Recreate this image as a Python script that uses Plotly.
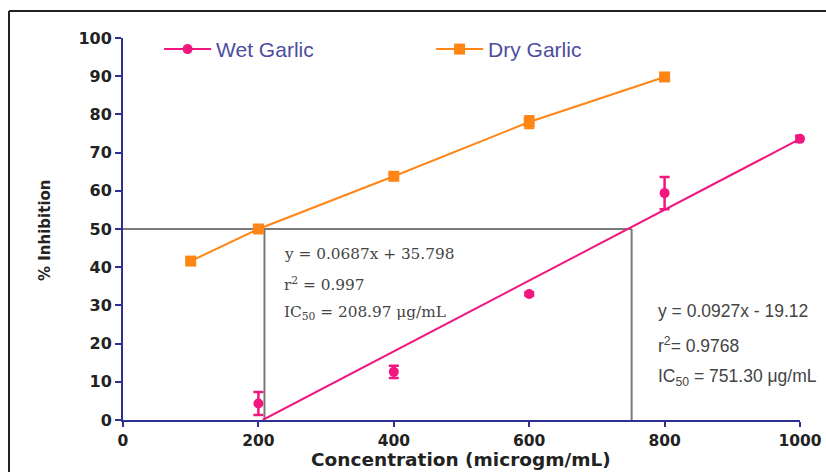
import plotly.graph_objects as go

# ---- data ----
dry_x = [100, 200, 400, 600, 800]
dry_y = [41.6, 50.0, 63.8, 78.0, 89.8]
dry_err = [0.4, 0.5, 0.5, 1.6, 0.5]

wet_x = [200, 400, 600, 800, 1000]
wet_y = [4.3, 12.6, 33.0, 59.4, 73.6]
wet_err = [3.0, 1.6, 0.4, 4.2, 0.8]

wet_slope, wet_intercept = 0.0927, -19.12
wet_fit_x = [-wet_intercept / wet_slope, 1000]
wet_fit_y = [wet_slope * v + wet_intercept for v in wet_fit_x]

ic50_dry = 208.97
ic50_wet = 751.30

x_title = "Concentration (microgm/mL)"
y_title = "% Inhibition"

PINK = "#f0187f"
ORANGE = "#ff8515"
NAVY = "#2e3192"
GRAY = "#7a7a7a"

fig = go.Figure()

fig.add_trace(go.Scatter(
    x=dry_x, y=dry_y, mode="lines+markers", name="Dry Garlic",
    line=dict(color=ORANGE, width=2),
    marker=dict(symbol="square", size=11, color=ORANGE),
    error_y=dict(type="data", array=dry_err, color=ORANGE, thickness=2, width=5),
    cliponaxis=False, legendrank=2,
))

fig.add_trace(go.Scatter(
    x=wet_fit_x, y=wet_fit_y, mode="lines", showlegend=False,
    line=dict(color=PINK, width=2), cliponaxis=False,
))
fig.add_trace(go.Scatter(
    x=wet_x, y=wet_y, mode="markers", showlegend=False,
    marker=dict(symbol="circle", size=10, color=PINK),
    error_y=dict(type="data", array=wet_err, color=PINK, thickness=2.5, width=5),
    cliponaxis=False,
))
# legend entry for wet garlic
fig.add_trace(go.Scatter(
    x=[None], y=[None], mode="lines+markers", name="Wet Garlic",
    line=dict(color=PINK, width=2),
    marker=dict(symbol="circle", size=10, color=PINK), legendrank=1,
))

# IC50 guide lines
fig.add_shape(type="line", x0=0, x1=ic50_wet, y0=50, y1=50, xref="x", yref="y",
              line=dict(color=GRAY, width=2), layer="below")
fig.add_shape(type="line", x0=ic50_dry, x1=ic50_dry, y0=0, y1=50, xref="x", yref="y",
              line=dict(color=GRAY, width=2), layer="below")
fig.add_shape(type="line", x0=ic50_wet, x1=ic50_wet, y0=0, y1=50, xref="x", yref="y",
              line=dict(color=GRAY, width=2), layer="below")

# outer frame (top and left edges visible)
fx = (9 - 123) / 677
fy = (420 - 11) / 382
fig.add_shape(type="line", xref="paper", yref="paper", x0=fx, x1=1.1, y0=fy, y1=fy,
              line=dict(color="#222", width=2))
fig.add_shape(type="line", xref="paper", yref="paper", x0=fx, x1=fx, y0=fy, y1=-0.2,
              line=dict(color="#222", width=2))

serif = "DejaVu Serif, Times New Roman, serif"
sans = "Liberation Sans, Arial, sans-serif"
wide = "DejaVu Sans, Verdana, sans-serif"
left_lines = ["y = 0.0687x + 35.798", "r<sup>2</sup> = 0.997", "IC<sub>50</sub> = 208.97 μg/mL"]
left_y = [43.5, 35.6, 28.0]
for t, yy in zip(left_lines, left_y):
    fig.add_annotation(x=235, y=yy, text=t, showarrow=False, xanchor="left", yanchor="middle",
                       font=dict(family=serif, size=15.3, color="#444"))
right_lines = ["y = 0.0927x - 19.12", "r<sup>2</sup>= 0.9768", "IC<sub>50</sub> = 751.30 μg/mL"]
right_y = [28.5, 19.6, 11.0]
for t, yy in zip(right_lines, right_y):
    fig.add_annotation(x=787, y=yy, text=t, showarrow=False, xanchor="left", yanchor="middle",
                       font=dict(family=sans, size=17.5, color="#444"))

# axis titles
fig.add_annotation(xref="paper", yref="paper", x=(461 - 123) / 677, y=(420 - 460) / 382,
                   text=x_title, showarrow=False, xanchor="center", yanchor="middle",
                   borderpad=0,
                   font=dict(family=wide, size=18.5, color="#222", weight="bold"))
fig.add_annotation(xref="paper", yref="paper", x=(45 - 123) / 677, y=(420 - 230) / 382,
                   text=y_title, showarrow=False, xanchor="center", yanchor="middle",
                   textangle=-90,
                   font=dict(family=wide, size=15, color="#222", weight="bold"))

fig.update_layout(
    width=826, height=472,
    margin=dict(l=123, r=26, t=38, b=52, autoexpand=False),
    paper_bgcolor="white", plot_bgcolor="white",
    showlegend=True,
    legend=dict(orientation="h", x=0.0533, y=0.97, xanchor="left", yanchor="middle",
                entrywidth=210, entrywidthmode="pixels", itemwidth=47,
                font=dict(family=sans, size=21, color="#4d4d9e"),
                bgcolor="rgba(0,0,0,0)"),
    xaxis=dict(range=[0, 1000], tickvals=[0, 200, 400, 600, 800, 1000],
               showgrid=False, zeroline=False, showline=True, linecolor=NAVY, linewidth=2,
               ticks="outside", ticklen=5, tickwidth=2, tickcolor=NAVY, automargin=False,
               tickfont=dict(family=wide, size=15.5, color="#222", weight="bold")),
    yaxis=dict(range=[0, 100], tickvals=list(range(0, 101, 10)),
               showgrid=False, zeroline=False, showline=True, linecolor=NAVY, linewidth=2,
               ticks="outside", ticklen=6, tickwidth=2, tickcolor=NAVY, automargin=False,
               tickfont=dict(family=wide, size=16, color="#222", weight="bold")),
)

fig.write_html("out.html", config={"displayModeBar": False},
               post_script="document.body.style.margin='0px';")
